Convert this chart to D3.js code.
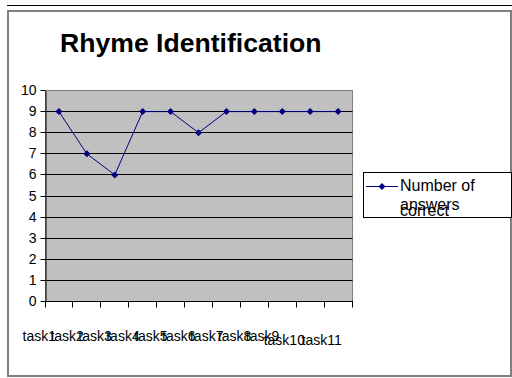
<!DOCTYPE html>
<html>
<head>
<meta charset="utf-8">
<script src="https://cdn.jsdelivr.net/npm/d3@7"></script>
<style>
  body { margin: 0; background: #fff; }
  svg { display: block; }
</style>
</head>
<body>
<svg width="512" height="378"></svg>
<script>
// Chart data
const chartTitle = "Rhyme Identification";
const tasks = ["task1", "task2", "task3", "task4", "task5", "task6", "task7", "task8", "task9", "task10", "task11"];
const correctAnswers = [9, 7, 6, 9, 9, 8, 9, 9, 9, 9, 9];
const yTickValues = [0, 1, 2, 3, 4, 5, 6, 7, 8, 9, 10];
const legendLines = ["Number of", "answers", "correct"];

const svg = d3.select("svg");
const FONT = "'Liberation Sans', Arial, Helvetica, sans-serif";
const NAVY = "#000080";
const AXIS_FONT_SIZE = 14;

// Outer frame
svg.append("line")
  .attr("x1", 7).attr("x2", 512).attr("y1", 5.5).attr("y2", 5.5)
  .attr("stroke", "#000").attr("stroke-width", 1);
svg.append("rect")
  .attr("x", 8).attr("y", 11).attr("width", 503).attr("height", 365)
  .attr("fill", "none").attr("stroke", "#808080").attr("stroke-width", 2);

// Title
svg.append("text")
  .attr("x", 60).attr("y", 52)
  .attr("font-family", FONT).attr("font-size", 26.6).attr("font-weight", "bold")
  .attr("fill", "#000")
  .text(chartTitle);

// Scales
const plot = { left: 45, right: 352, top: 90.5, bottom: 301.5 };
const x = d3.scaleBand().domain(tasks).range([plot.left, plot.right]);
const y = d3.scaleLinear().domain([0, 10]).range([plot.bottom, plot.top]);
const crisp = v => Math.round(v - 0.5) + 0.5;

// Plot area background
svg.append("rect")
  .attr("x", plot.left + 0.5).attr("y", crisp(y(10)))
  .attr("width", plot.right - plot.left).attr("height", crisp(y(0)) - crisp(y(10)))
  .attr("fill", "#c0c0c0").attr("stroke", "#808080").attr("stroke-width", 1);

// Horizontal gridlines
svg.append("g")
  .selectAll("line")
  .data(yTickValues.filter(v => v > 0 && v < 10))
  .join("line")
  .attr("x1", plot.left).attr("x2", plot.right + 0.5)
  .attr("y1", d => crisp(y(d))).attr("y2", d => crisp(y(d)))
  .attr("stroke", "#000").attr("stroke-width", 1);

// Y axis
const yAxis = d3.axisLeft(y).tickValues(yTickValues).tickSize(5).tickPadding(4).tickSizeOuter(0);
const gy = svg.append("g").attr("transform", `translate(${plot.left + 0.5},0)`).call(yAxis);
gy.select(".domain").attr("stroke", "#000");
gy.selectAll(".tick").attr("transform", d => `translate(0,${crisp(y(d))})`);
gy.selectAll(".tick line").attr("stroke", "#000");
gy.selectAll(".tick text")
  .attr("font-family", FONT).attr("font-size", AXIS_FONT_SIZE).attr("fill", "#000");

// X axis line and ticks at category boundaries
const xTickPos = tasks.map(t => x(t)).concat([plot.right]);
svg.append("line")
  .attr("x1", plot.left).attr("x2", plot.right + 1)
  .attr("y1", crisp(y(0))).attr("y2", crisp(y(0)))
  .attr("stroke", "#000");
svg.append("g")
  .selectAll("line")
  .data(xTickPos)
  .join("line")
  .attr("x1", d => crisp(d)).attr("x2", d => crisp(d))
  .attr("y1", crisp(y(0))).attr("y2", crisp(y(0)) + 6)
  .attr("stroke", "#000");

// Category labels: two-digit labels are set one step lower
svg.append("g")
  .selectAll("text")
  .data(tasks)
  .join("text")
  .attr("x", (d, i) => x(d) - 22.5 - (i === 9 ? 10 : 0))
  .attr("y", (d, i) => i >= 9 ? 345 : 340.5)
  .attr("font-family", FONT).attr("font-size", AXIS_FONT_SIZE).attr("fill", "#000")
  .text(d => d);

// Series line and markers
const pts = tasks.map((t, i) => [x(t) + x.bandwidth() / 2, y(correctAnswers[i])]);
svg.append("path")
  .attr("d", d3.line()(pts))
  .attr("fill", "none").attr("stroke", NAVY).attr("stroke-width", 1);
const diamond = "M0,-3.5L3.5,0L0,3.5L-3.5,0Z";
svg.append("g")
  .selectAll("path")
  .data(pts)
  .join("path")
  .attr("transform", d => `translate(${d[0]},${d[1]})`)
  .attr("d", diamond)
  .attr("fill", NAVY);

// Legend
const lg = svg.append("g");
lg.append("rect")
  .attr("x", 363.5).attr("y", 172.5).attr("width", 148).attr("height", 45)
  .attr("fill", "#fff").attr("stroke", "#000").attr("stroke-width", 1);
lg.append("line")
  .attr("x1", 366).attr("x2", 398).attr("y1", 186.5).attr("y2", 186.5)
  .attr("stroke", NAVY).attr("stroke-width", 1);
lg.append("path")
  .attr("transform", "translate(382,186.5)")
  .attr("d", diamond).attr("fill", NAVY);
const legendBaselines = [191, 210, 215.5];
lg.selectAll("text")
  .data(legendLines)
  .join("text")
  .attr("x", 400)
  .attr("y", (d, i) => legendBaselines[i])
  .attr("font-family", FONT).attr("font-size", 16).attr("fill", "#000")
  .text(d => d);
</script>
</body>
</html>
